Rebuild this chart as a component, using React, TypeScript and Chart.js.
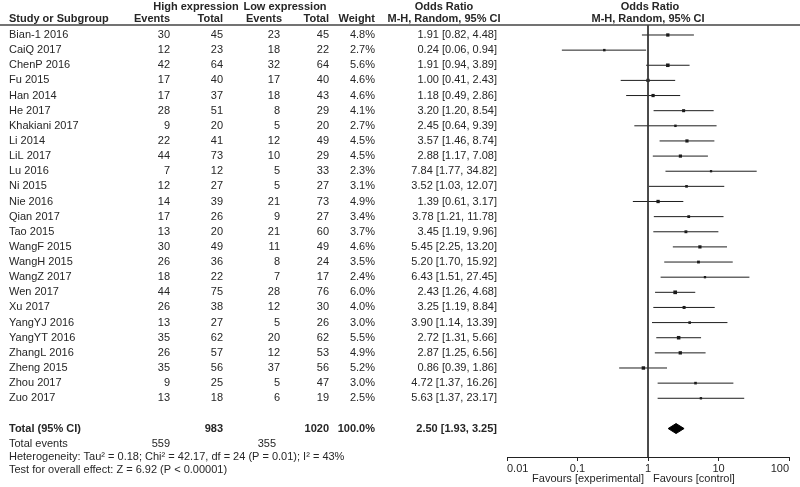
import React, { useEffect, useRef } from 'react';
import { Chart, registerables } from 'chart.js';
Chart.register(...registerables);

const studies = ['Bian-1 2016', 'CaiQ 2017', 'ChenP 2016', 'Fu 2015', 'Han 2014', 'He 2017', 'Khakiani 2017', 'Li 2014', 'LiL 2017', 'Lu 2016', 'Ni 2015', 'Nie 2016', 'Qian 2017', 'Tao 2015', 'WangF 2015', 'WangH 2015', 'WangZ 2017', 'Wen 2017', 'Xu 2017', 'YangYJ 2016', 'YangYT 2016', 'ZhangL 2016', 'Zheng 2015', 'Zhou 2017', 'Zuo 2017'];
const highEvents = [30, 12, 42, 17, 17, 28, 9, 22, 44, 7, 12, 14, 17, 13, 30, 26, 18, 44, 26, 13, 35, 26, 35, 9, 13];
const highTotal = [45, 23, 64, 40, 37, 51, 20, 41, 73, 12, 27, 39, 26, 20, 49, 36, 22, 75, 38, 27, 62, 57, 56, 25, 18];
const lowEvents = [23, 18, 32, 17, 18, 8, 5, 12, 10, 5, 5, 21, 9, 21, 11, 8, 7, 28, 12, 5, 20, 12, 37, 5, 6];
const lowTotal = [45, 22, 64, 40, 43, 29, 20, 49, 29, 33, 27, 73, 27, 60, 49, 24, 17, 76, 30, 26, 62, 53, 56, 47, 19];
const weights = [4.8, 2.7, 5.6, 4.6, 4.6, 4.1, 2.7, 4.5, 4.5, 2.3, 3.1, 4.9, 3.4, 3.7, 4.6, 3.5, 2.4, 6.0, 4.0, 3.0, 5.5, 4.9, 5.2, 3.0, 2.5];
const oddsRatios = [1.91, 0.24, 1.91, 1.00, 1.18, 3.20, 2.45, 3.57, 2.88, 7.84, 3.52, 1.39, 3.78, 3.45, 5.45, 5.20, 6.43, 2.43, 3.25, 3.90, 2.72, 2.87, 0.86, 4.72, 5.63];
const ciLow = [0.82, 0.06, 0.94, 0.41, 0.49, 1.20, 0.64, 1.46, 1.17, 1.77, 1.03, 0.61, 1.21, 1.19, 2.25, 1.70, 1.51, 1.26, 1.19, 1.14, 1.31, 1.25, 0.39, 1.37, 1.37];
const ciHigh = [4.48, 0.94, 3.89, 2.43, 2.86, 8.54, 9.39, 8.74, 7.08, 34.82, 12.07, 3.17, 11.78, 9.96, 13.20, 15.92, 27.45, 4.68, 8.84, 13.39, 5.66, 6.56, 1.86, 16.26, 23.17];

const totalLabel = 'Total (95% CI)';
const totalHighN = 983;
const totalLowN = 1020;
const totalWeight = '100.0%';
const totalOR = 2.50;
const totalLow = 1.93;
const totalHigh = 3.25;
const totalHighEvents = 559;
const totalLowEvents = 355;
const heterogeneityText = 'Heterogeneity: Tau\u00B2 = 0.18; Chi\u00B2 = 42.17, df = 24 (P = 0.01); I\u00B2 = 43%';
const overallText = 'Test for overall effect: Z = 6.92 (P < 0.00001)';

const xTicks = [0.01, 0.1, 1, 10, 100];
const xTickLabels = ['0.01', '0.1', '1', '10', '100'];
const favoursLeft = 'Favours [experimental]';
const favoursRight = 'Favours [control]';

const TOTAL_ROW = 26;
const Y_MIN = -0.66;
const Y_MAX = 27.88;
const FONT = '"Liberation Sans", Arial, Helvetica, sans-serif';
const TEXT = '#262626';

const fmt = (v: number) => v.toFixed(2);

export default function App() {
  const ref = useRef<HTMLCanvasElement | null>(null);

  useEffect(() => {
    document.body.style.margin = '0';
    const canvas = ref.current;
    if (!canvas) return;

    const datasets: any[] = [];
    datasets.push({
      data: [{ x: 1, y: Y_MIN }, { x: 1, y: Y_MAX }],
      showLine: true,
      borderColor: '#333',
      borderWidth: 1,
      pointRadius: 0,
    });
    studies.forEach((_, i) => {
      datasets.push({
        data: [{ x: ciLow[i], y: i }, { x: ciHigh[i], y: i }],
        showLine: true,
        borderColor: '#1e1e1e',
        borderWidth: 1,
        pointRadius: 0,
      });
    });
    datasets.push({
      data: oddsRatios.map((v, i) => ({ x: v, y: i })),
      showLine: false,
      pointStyle: 'rect',
      pointRadius: weights.map((w) => (1.5 * Math.sqrt(w)) / Math.SQRT2),
      backgroundColor: '#1a1a1a',
      borderColor: '#1a1a1a',
      borderWidth: 0,
    });
    datasets.push({
      data: [
        { x: totalLow, y: TOTAL_ROW },
        { x: totalOR, y: TOTAL_ROW - 0.33 },
        { x: totalHigh, y: TOTAL_ROW },
        { x: totalOR, y: TOTAL_ROW + 0.33 },
        { x: totalLow, y: TOTAL_ROW },
      ],
      showLine: true,
      fill: 'shape',
      backgroundColor: '#000',
      borderColor: '#000',
      borderWidth: 1,
      pointRadius: 0,
      tension: 0,
    });

    const tablePlugin = {
      id: 'forestTable',
      afterDraw(chart: any) {
        const ctx = chart.ctx as CanvasRenderingContext2D;
        const ys = chart.scales.y;
        const xs = chart.scales.x;
        const rowY = (i: number) => ys.getPixelForValue(i);
        ctx.save();
        ctx.textBaseline = 'middle';
        const put = (t: string, x: number, y: number, align: CanvasTextAlign, bold = false) => {
          ctx.font = `${bold ? 'bold ' : ''}11px ${FONT}`;
          ctx.fillStyle = TEXT;
          ctx.textAlign = align;
          ctx.fillText(t, x, y);
        };
        const xName = 9, xHE = 170, xHT = 223, xLE = 280, xLT = 329, xW = 375, xOR = 497;
        const orCenter = 444;
        const plotCenter = xs.getPixelForValue(1);
        put('High expression', 196, 7, 'center', true);
        put('Low expression', 285, 7, 'center', true);
        put('Odds Ratio', orCenter, 7, 'center', true);
        put('Odds Ratio', plotCenter + 2, 7, 'center', true);
        put('Study or Subgroup', xName, 19, 'left', true);
        put('Events', xHE, 19, 'right', true);
        put('Total', xHT, 19, 'right', true);
        put('Events', xLE + 2, 19, 'right', true);
        put('Total', xLT, 19, 'right', true);
        put('Weight', xW, 19, 'right', true);
        put('M-H, Random, 95% CI', orCenter, 19, 'center', true);
        put('M-H, Random, 95% CI', plotCenter, 19, 'center', true);
        ctx.strokeStyle = '#444';
        ctx.lineWidth = 1.5;
        ctx.beginPath();
        ctx.moveTo(0, 25);
        ctx.lineTo(800, 25);
        ctx.stroke();
        studies.forEach((s, i) => {
          const y = rowY(i);
          put(s, xName, y, 'left');
          put(String(highEvents[i]), xHE, y, 'right');
          put(String(highTotal[i]), xHT, y, 'right');
          put(String(lowEvents[i]), xLE, y, 'right');
          put(String(lowTotal[i]), xLT, y, 'right');
          put(weights[i].toFixed(1) + '%', xW, y, 'right');
          put(`${fmt(oddsRatios[i])} [${fmt(ciLow[i])}, ${fmt(ciHigh[i])}]`, xOR, y, 'right');
        });
        const ty = rowY(TOTAL_ROW);
        put(totalLabel, xName, ty, 'left', true);
        put(String(totalHighN), xHT, ty, 'right', true);
        put(String(totalLowN), xLT, ty, 'right', true);
        put(totalWeight, xW, ty, 'right', true);
        put(`${fmt(totalOR)} [${fmt(totalLow)}, ${fmt(totalHigh)}]`, xOR, ty, 'right', true);
        put('Total events', xName, ty + 15, 'left');
        put(String(totalHighEvents), xHE, ty + 15, 'right');
        put(String(totalLowEvents), xLE - 4, ty + 15, 'right');
        put(heterogeneityText, xName, ty + 28, 'left');
        put(overallText, xName, ty + 41, 'left');
        put(favoursLeft, plotCenter - 4, 479, 'right');
        put(favoursRight, plotCenter + 5, 479, 'left');
        ctx.restore();
      },
    };

    const chart = new Chart(canvas, {
      type: 'scatter',
      data: { datasets },
      options: {
        responsive: false,
        animation: false,
        devicePixelRatio: 1,
        layout: { padding: { left: 507, right: 11, top: 25, bottom: 0 } },
        plugins: { legend: { display: false }, tooltip: { enabled: false } },
        scales: {
          x: {
            type: 'logarithmic',
            min: 0.01,
            max: 100,
            afterBuildTicks: (s: any) => {
              s.ticks = xTicks.map((v) => ({ value: v }));
            },
            afterFit: (s: any) => {
              s.height = 30;
            },
            ticks: {
              autoSkip: false,
              maxRotation: 0,
              align: 'inner',
              padding: 1,
              color: TEXT,
              font: { size: 11, family: FONT },
              callback: (v: any) => {
                const idx = xTicks.indexOf(Number(v));
                return idx >= 0 ? xTickLabels[idx] : '';
              },
            },
            grid: { drawOnChartArea: false, drawTicks: true, tickLength: 4, color: '#222' },
            border: { display: true, color: '#222', width: 1 },
          },
          y: {
            type: 'linear',
            display: false,
            reverse: true,
            min: Y_MIN,
            max: Y_MAX,
          },
        },
      },
      plugins: [tablePlugin],
    } as any);

    return () => chart.destroy();
  }, []);

  return <canvas ref={ref} width={800} height={487} style={{ display: 'block' }} />;
}
